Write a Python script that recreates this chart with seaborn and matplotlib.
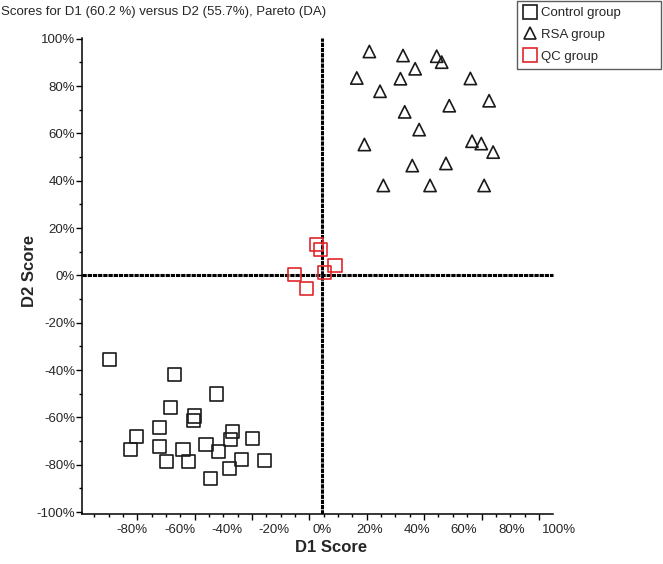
import numpy as np
import pandas as pd
import matplotlib
matplotlib.use("Agg")
import matplotlib.pyplot as plt
from matplotlib.lines import Line2D
from matplotlib.ticker import FixedLocator, MultipleLocator, FuncFormatter
import seaborn as sns

# ---- data ----
control_x = [-89.7, -62.2, -44.3, -63.7, -53.8, -54.2, -68.4, -78.1, -37.6, -38.6, -29.3,
             -48.8, -68.4, -80.8, -58.5, -43.5, -65.3, -56.0, -33.9, -24.1, -39.0, -46.7]
control_y = [-35.5, -41.7, -50.1, -55.9, -59.4, -61.2, -64.3, -68.1, -66.1, -69.3, -69.1,
             -71.3, -72.4, -73.4, -73.4, -74.2, -78.6, -78.6, -77.8, -78.0, -81.6, -85.8]
rsa_x = [20.1, 34.3, 48.5, 50.6, 39.4, 14.8, 33.2, 62.7, 24.6, 70.6, 53.8,
         35.0, 41.1, 18.0, 63.4, 67.3, 72.3, 38.2, 52.4, 26.0, 45.7, 68.5]
rsa_y = [94.6, 92.9, 92.6, 90.1, 87.3, 83.4, 83.1, 83.2, 77.8, 73.8, 71.7,
         69.1, 61.6, 55.3, 56.7, 55.7, 52.1, 46.4, 47.3, 38.0, 38.0, 38.0]
qc_x = [-2.1, -0.6, 5.6, 1.0, -11.3, -6.6]
qc_y = [12.9, 10.8, 4.3, 1.3, 0.3, -5.5]

group_names = ["Control group", "RSA group", "QC group"]
x_tick_labels = [-80, -60, -40, -20, 0, 20, 40, 60, 80, 100]
y_tick_labels = [-100, -80, -60, -40, -20, 0, 20, 40, 60, 80, 100]
title = "Scores for D1 (60.2 %) versus D2 (55.7%), Pareto (DA)"

# ---- figure ----
sns.set_theme(style="white")
plt.rcParams["font.family"] = ["Liberation Sans", "DejaVu Sans"]

X_MIN, X_AXIS_END, X_MAX = -101.1, 97.6, 100.5
L, R, T, B = 82, 560, 38, 514  # axes box in pixels

fig = plt.figure(figsize=(6.63, 5.64), dpi=100)
ax = fig.add_axes([L / 663, 1 - B / 564, (R - L) / 663, (B - T) / 564])

df = pd.DataFrame({
    "x": control_x + rsa_x + qc_x,
    "y": control_y + rsa_y + qc_y,
    "group": [group_names[0]] * len(control_x) + [group_names[1]] * len(rsa_x)
             + [group_names[2]] * len(qc_x),
})

styles = {
    "Control group": dict(marker="s", s=88, edgecolor="#1a1a1a"),
    "RSA group": dict(marker="^", s=78, edgecolor="#1a1a1a"),
    "QC group": dict(marker="s", s=88, edgecolor="#e0262b"),
}
for g in group_names:
    sub = df[df["group"] == g]
    sns.scatterplot(data=sub, x="x", y="y", ax=ax, facecolor="none",
                    linewidth=1.2, zorder=3, legend=False, **styles[g])

# zero lines (thick, slightly textured)
ax.hlines(0, X_MIN, X_AXIS_END, color="black", lw=2.2, ls=(0, (1.4, 0.3)), zorder=2)
ax.axvline(0, color="black", lw=2.2, ls=(0, (1.4, 0.3)), zorder=2)

ax.set_xlim(X_MIN, X_MAX)
ax.set_ylim(-100.8, 100.3)

for side in ["top", "right"]:
    ax.spines[side].set_visible(False)
for side in ["left", "bottom"]:
    ax.spines[side].set_color("black")
    ax.spines[side].set_linewidth(1.1)
ax.spines["bottom"].set_bounds(X_MIN, X_AXIS_END)

pct = FuncFormatter(lambda v, p: f"{int(round(v))}%")

# y axis ticks
ax.yaxis.set_major_locator(FixedLocator(y_tick_labels))
ax.yaxis.set_minor_locator(MultipleLocator(10))
ax.yaxis.set_major_formatter(pct)
ax.tick_params(axis="y", which="major", direction="out", length=4, width=1,
               color="black", labelsize=9.5, pad=1, left=True)
ax.tick_params(axis="y", which="minor", direction="out", length=2, width=1,
               color="black", left=True)

# x axis: labels without marks; marks on a secondary axis
ax.xaxis.set_major_locator(FixedLocator(x_tick_labels))
ax.xaxis.set_major_formatter(pct)
ax.tick_params(axis="x", which="major", length=0, labelsize=9.5, pad=7, bottom=True)
sec = ax.secondary_xaxis("bottom")
sec.xaxis.set_major_locator(FixedLocator(np.arange(-77.8, 97, 24.2)))
sec.xaxis.set_minor_locator(FixedLocator(np.arange(-77.8 - 18.15, 97, 6.05)))
sec.xaxis.set_major_formatter(FuncFormatter(lambda v, p: ""))
sec.tick_params(axis="x", which="major", direction="out", length=4, width=1, color="black")
sec.tick_params(axis="x", which="minor", direction="out", length=2, width=1, color="black")
sec.spines["bottom"].set_visible(False)

ax.grid(False)

ax.set_xlabel("D1 Score", fontsize=12, fontweight="bold", va="center")
ax.set_ylabel("D2 Score", fontsize=12, fontweight="bold", va="center")
ax.xaxis.set_label_coords((331 - L) / (R - L), (B - 548) / (B - T))
ax.yaxis.set_label_coords((29 - L) / (R - L), (B - 271) / (B - T))

fig.text(1 / 663, 1 - 12 / 564, title, fontsize=9.5, ha="left", va="center")

handles = [
    Line2D([], [], marker="s", ls="none", markersize=9.4, markerfacecolor="none",
           markeredgecolor="#1a1a1a", markeredgewidth=1.2),
    Line2D([], [], marker="^", ls="none", markersize=8.8, markerfacecolor="none",
           markeredgecolor="#1a1a1a", markeredgewidth=1.2),
    Line2D([], [], marker="s", ls="none", markersize=9.4, markerfacecolor="none",
           markeredgecolor="#e0262b", markeredgewidth=1.2),
]
leg = fig.legend(handles, group_names, loc="upper left",
                 bbox_to_anchor=(517 / 663, 1 - 70 / 564, 144 / 663, 69 / 564),
                 mode="expand", borderaxespad=0,
                 fontsize=9.5, frameon=True, fancybox=False, handlelength=1.0,
                 handletextpad=0.4, labelspacing=0.72, borderpad=0.45)
leg.get_frame().set_edgecolor("#333333")
leg.get_frame().set_linewidth(1.0)

fig.savefig("out.png", dpi=100)
